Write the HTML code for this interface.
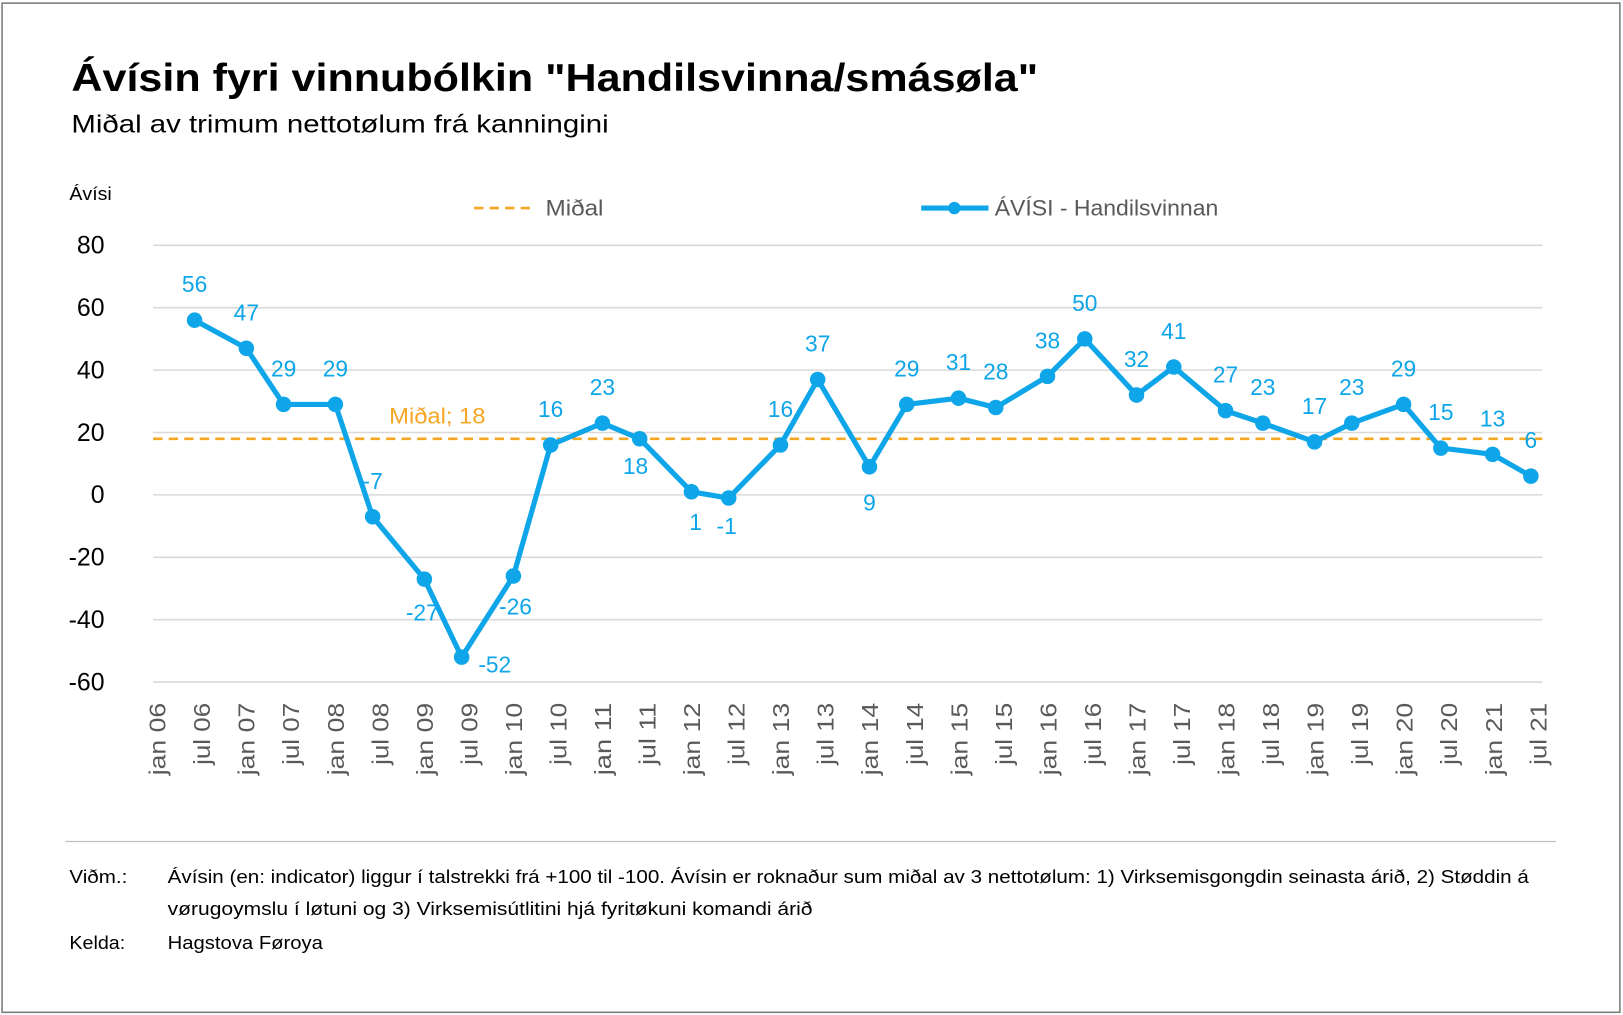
<!DOCTYPE html>
<html><head><meta charset="utf-8"><style>html,body{margin:0;padding:0;background:#fff}svg{display:block}</style></head>
<body>
<svg width="1623" height="1015" viewBox="0 0 1568 980.6" xmlns="http://www.w3.org/2000/svg" font-family="Liberation Sans, sans-serif">
<rect x="2" y="3" width="1563" height="975" fill="#fff" stroke="#7a7a7a" stroke-width="1.5"/>
<text x="69" y="88" font-size="38" font-weight="bold" fill="#000" textLength="934" lengthAdjust="spacingAndGlyphs">Ávísin fyri vinnubólkin "Handilsvinna/smásøla"</text>
<text x="69" y="128" font-size="24" fill="#000" textLength="519" lengthAdjust="spacingAndGlyphs">Miðal av trimum nettotølum frá kanningini</text>
<text x="67" y="193" font-size="18" fill="#000" textLength="41" lengthAdjust="spacingAndGlyphs">Ávísi</text>
<g id="grid" stroke="#d9d9d9" stroke-width="1.5"></g>
<g id="ylab" font-size="24" fill="#000" text-anchor="end"></g>
<line x1="148" y1="423.9" x2="1490" y2="423.9" stroke="#F5A623" stroke-width="2.5" stroke-dasharray="9,6"/>
<text x="376" y="409" font-size="21" fill="#F5A623" textLength="93" lengthAdjust="spacingAndGlyphs">Miðal; 18</text>
<line x1="458" y1="201" x2="518" y2="201" stroke="#F5A623" stroke-width="2.5" stroke-dasharray="9,6"/>
<text x="527" y="208" font-size="21" fill="#595959" textLength="56" lengthAdjust="spacingAndGlyphs">Miðal</text>
<line x1="890" y1="201" x2="955" y2="201" stroke="#0EA5E9" stroke-width="5"/>
<circle cx="922" cy="201" r="6" fill="#0EA5E9"/>
<text x="961" y="208" font-size="21" fill="#595959" textLength="216" lengthAdjust="spacingAndGlyphs">ÁVÍSI - Handilsvinnan</text>
<g id="series"></g>
<g id="xlab" font-size="22" fill="#595959"></g>
<line x1="63" y1="813" x2="1503" y2="813" stroke="#bfbfbf" stroke-width="1.2"/>
<g font-size="18" fill="#000">
<text x="67" y="853" textLength="56" lengthAdjust="spacingAndGlyphs">Viðm.:</text>
<text x="162" y="853" textLength="1315" lengthAdjust="spacingAndGlyphs">Ávísin (en: indicator) liggur í talstrekki frá +100 til -100. Ávísin er roknaður sum miðal av 3 nettotølum: 1) Virksemisgongdin seinasta árið, 2) Støddin á</text>
<text x="162" y="884" textLength="623" lengthAdjust="spacingAndGlyphs">vørugoymslu í løtuni og 3) Virksemisútlitini hjá fyritøkuni komandi árið</text>
<text x="67" y="917" textLength="54" lengthAdjust="spacingAndGlyphs">Kelda:</text>
<text x="162" y="917" textLength="150" lengthAdjust="spacingAndGlyphs">Hagstova Føroya</text>
</g>
</svg>
<script>
const NS="http://www.w3.org/2000/svg";
const Y=v=>237+(80-v)*3.014, X=i=>145+43.03*i;
function el(p,t,a,txt){const e=document.createElementNS(NS,t);for(const k in a)e.setAttribute(k,a[k]);if(txt!=null)e.textContent=txt;document.getElementById(p).appendChild(e);}
for(let v=80;v>=-60;v-=20){el("grid","line",{x1:148,x2:1490,y1:Y(v),y2:Y(v)});el("ylab","text",{x:101,y:Y(v)+8},String(v));}
const d=[56,47,29,29,-7,-27,-52,-26,16,23,18,1,-1,16,37,9,29,31,28,38,50,32,41,27,23,17,23,29,15,13,6];
const xs=[];for(let k=0;k<30;k++)xs.push(188+86*Math.floor(k/2)+(k%2?50:0));xs.push(1479);
const off={4:[0,-34],5:[-2,33],6:[32,8],7:[2,30],10:[-4,27],11:[4,30],12:[-2,28],15:[0,35]};
let pts=d.map((v,k)=>xs[k]+","+Y(v)).join(" ");
el("series","polyline",{points:pts,fill:"none",stroke:"#0EA5E9","stroke-width":5,"stroke-linejoin":"round"});
d.forEach((v,k)=>{const x=xs[k],y=Y(v);el("series","circle",{cx:x,cy:y,r:7.5,fill:"#0EA5E9"});
const o=off[k]||[0,-34];el("series","text",{x:x+o[0],y:y+o[1]+7,"font-size":22,fill:"#0EA5E9","text-anchor":"middle"},String(v));});
for(let i=0;i<32;i++){const yr=6+Math.floor(i/2);const s=(i%2?"jul ":"jan ")+String(yr).padStart(2,"0");const x=X(i)+15;
el("xlab","text",{x:x,y:679,"text-anchor":"end",transform:`rotate(-90 ${x} 679)`,textLength:(i%2?60:70),lengthAdjust:"spacingAndGlyphs"},s);}
</script>
</body></html>
